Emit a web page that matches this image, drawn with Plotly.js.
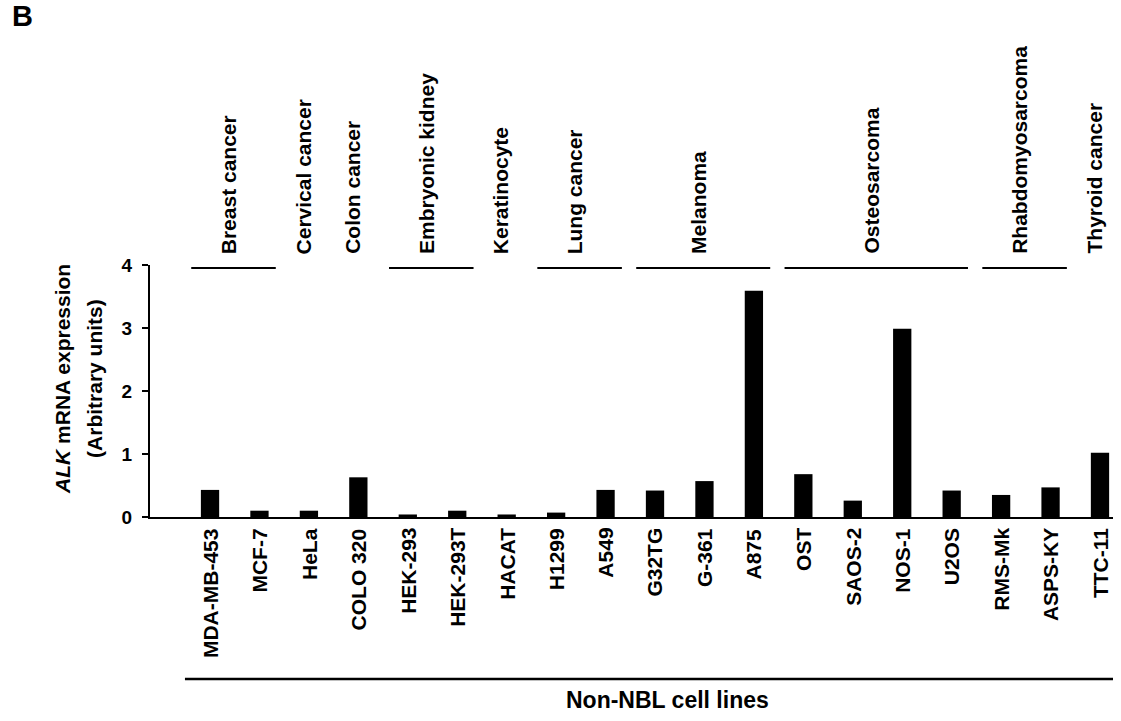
<!DOCTYPE html>
<html>
<head>
<meta charset="utf-8">
<script src="https://cdn.plot.ly/plotly-3.0.1.min.js"></script>
<style>html,body{margin:0;padding:0;background:#fff;}#chart{width:1121px;height:721px;}</style>
</head>
<body>
<div id="chart"></div>
<script>
// ---- data ----
var cellLines = ["MDA-MB-453","MCF-7","HeLa","COLO 320","HEK-293","HEK-293T","HACAT","H1299","A549",
                 "G32TG","G-361","A875","OST","SAOS-2","NOS-1","U2OS","RMS-Mk","ASPS-KY","TTC-11"];
var alkExpression = [0.43,0.10,0.10,0.63,0.04,0.10,0.04,0.07,0.43,
                     0.42,0.57,3.59,0.68,0.26,2.99,0.42,0.35,0.47,1.02];
var groupNames = ["Breast cancer","Cervical cancer","Colon cancer","Embryonic kidney","Keratinocyte",
                  "Lung cancer","Melanoma","Osteosarcoma","Rhabdomyosarcoma","Thyroid cancer"];
var groupFirst = [0,2,3,4,6,7,9,12,16,18];
var groupLast  = [1,2,3,5,6,8,11,15,17,18];
var yTicks = [0,1,2,3,4];

// ---- layout helpers ----
var FONT = "Liberation Sans, Arial, Helvetica, sans-serif";
var annotations = [];
var shapes = [];
for (var g = 0; g < groupNames.length; g++) {
  annotations.push({
    text: groupNames[g], xref: "x", yref: "paper",
    x: (groupFirst[g] + groupLast[g]) / 2 - 0.12, y: 1.036,
    xanchor: "center", yanchor: "bottom", textangle: -90, showarrow: false,
    font: {family: FONT, size: 21, color: "#000", weight: "bold"}
  });
  if (groupLast[g] > groupFirst[g]) {
    shapes.push({
      type: "line", xref: "x", yref: "paper",
      x0: groupFirst[g] - 0.38, x1: groupLast[g] + 0.33, y0: 0.988, y1: 0.988,
      line: {color: "#000", width: 2}
    });
  }
}
// cell line labels under the bars
for (var i = 0; i < cellLines.length; i++) {
  annotations.push({
    text: cellLines[i], xref: "x", yref: "paper", x: i, y: -0.036,
    xanchor: "center", yanchor: "top", textangle: -90, showarrow: false,
    font: {family: FONT, size: 21, color: "#000", weight: "bold"}
  });
}
// bottom bracket line
shapes.push({type: "line", xref: "paper", yref: "paper", x0: 0.0363, x1: 1.0, y0: -0.643, y1: -0.643,
             line: {color: "#000", width: 2.5}});
annotations.push({text: "Non-NBL cell lines", xref: "paper", yref: "paper", x: 0.537, y: -0.726,
  xanchor: "center", yanchor: "middle", showarrow: false,
  font: {family: FONT, size: 23, color: "#000", weight: "bold"}});
annotations.push({text: "<i>ALK</i> mRNA expression", xref: "paper", yref: "paper", x: -0.0903, y: 0.548,
  xanchor: "center", yanchor: "middle", textangle: -90, showarrow: false,
  font: {family: FONT, size: 21, color: "#000", weight: "bold"}});
annotations.push({text: "(Arbitrary units)", xref: "paper", yref: "paper", x: -0.0571, y: 0.548,
  xanchor: "center", yanchor: "middle", textangle: -90, showarrow: false,
  font: {family: FONT, size: 21, color: "#000", weight: "bold"}});
annotations.push({text: "B", xref: "paper", yref: "paper", x: -0.1454, y: 1.99,
  xanchor: "left", yanchor: "middle", showarrow: false,
  font: {family: FONT, size: 29, color: "#000", weight: "bold"}});

var trace = {
  type: "bar", x: cellLines, y: alkExpression, width: 0.37,
  marker: {color: "#000", line: {width: 0}}, hoverinfo: "x+y"
};

var layout = {
  width: 1121, height: 721,
  margin: {l: 150, r: 8, t: 265, b: 204, pad: 0},
  paper_bgcolor: "#fff", plot_bgcolor: "#fff",
  showlegend: false,
  font: {family: FONT, color: "#000"},
  xaxis: {
    type: "category", range: [-1.214, 18.263], fixedrange: true,
    showline: true, linecolor: "#000", linewidth: 2, showgrid: false, zeroline: false,
    ticks: "", showticklabels: false
  },
  yaxis: {
    range: [0, 4], tickvals: yTicks, ticktext: yTicks.map(String), fixedrange: true,
    showline: true, linecolor: "#000", linewidth: 2, showgrid: false, zeroline: false,
    ticks: "outside", ticklen: 6, tickwidth: 2, tickcolor: "#000", ticklabelstandoff: 6,
    tickfont: {family: FONT, size: 19, color: "#000", weight: "bold"}
  },
  shapes: shapes,
  annotations: annotations
};

Plotly.newPlot("chart", [trace], layout, {displayModeBar: false, staticPlot: true});
</script>
</body>
</html>
